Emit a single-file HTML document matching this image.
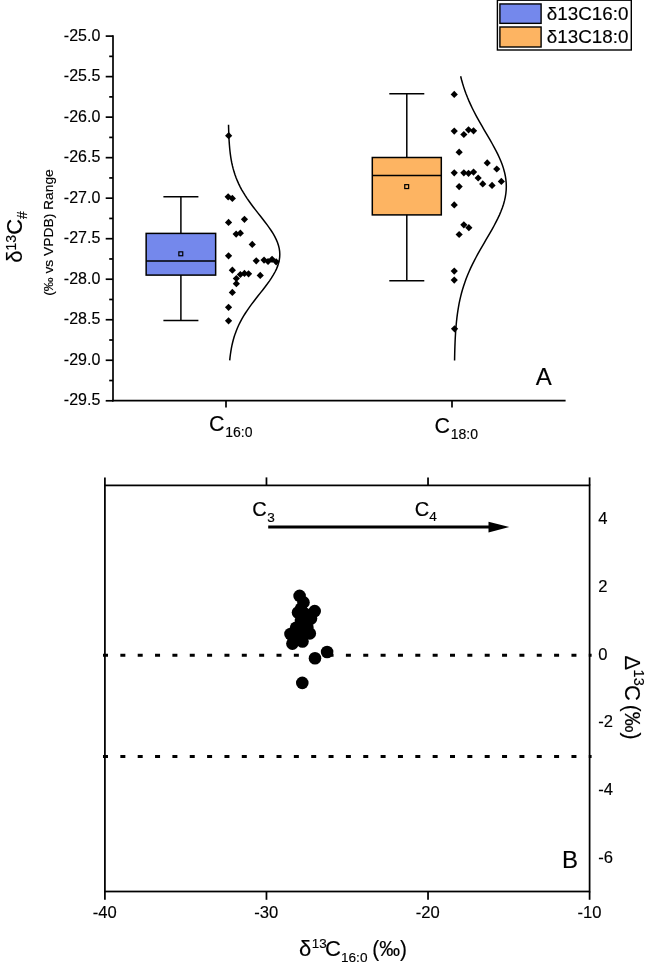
<!DOCTYPE html>
<html lang="en"><head><meta charset="utf-8"><title>Figure</title>
<style>html,body{margin:0;padding:0;background:#fff;}body{width:646px;height:966px;overflow:hidden;}svg{display:block;}text{font-family:"Liberation Sans", sans-serif;fill:#000;stroke:#000;stroke-width:0.15px;stroke-linejoin:round;}</style>
</head><body>
<svg width="646" height="966" viewBox="0 0 646 966">
<rect x="0" y="0" width="646" height="966" fill="#ffffff"/>
<g id="chartA" stroke="#000" stroke-width="1.70" fill="none" stroke-linecap="butt">
<line x1="113" y1="35.25" x2="113" y2="401.5"/>
<line x1="112.15" y1="400.7" x2="565.6" y2="400.7"/>
<line x1="105.7" y1="36.10" x2="113" y2="36.10"/>
<line x1="109.2" y1="56.36" x2="113" y2="56.36"/>
<line x1="105.7" y1="76.62" x2="113" y2="76.62"/>
<line x1="109.2" y1="96.88" x2="113" y2="96.88"/>
<line x1="105.7" y1="117.14" x2="113" y2="117.14"/>
<line x1="109.2" y1="137.40" x2="113" y2="137.40"/>
<line x1="105.7" y1="157.66" x2="113" y2="157.66"/>
<line x1="109.2" y1="177.92" x2="113" y2="177.92"/>
<line x1="105.7" y1="198.18" x2="113" y2="198.18"/>
<line x1="109.2" y1="218.44" x2="113" y2="218.44"/>
<line x1="105.7" y1="238.70" x2="113" y2="238.70"/>
<line x1="109.2" y1="258.96" x2="113" y2="258.96"/>
<line x1="105.7" y1="279.22" x2="113" y2="279.22"/>
<line x1="109.2" y1="299.48" x2="113" y2="299.48"/>
<line x1="105.7" y1="319.74" x2="113" y2="319.74"/>
<line x1="109.2" y1="340.00" x2="113" y2="340.00"/>
<line x1="105.7" y1="360.26" x2="113" y2="360.26"/>
<line x1="109.2" y1="380.52" x2="113" y2="380.52"/>
<line x1="105.7" y1="400.78" x2="113" y2="400.78"/>
<line x1="226.0" y1="400.7" x2="226.0" y2="407.6"/>
<line x1="452.0" y1="400.7" x2="452.0" y2="407.6"/>
</g>
<g font-size="16" text-anchor="end">
<text x="100.3" y="40.60">-25.0</text>
<text x="100.3" y="81.12">-25.5</text>
<text x="100.3" y="121.64">-26.0</text>
<text x="100.3" y="162.16">-26.5</text>
<text x="100.3" y="202.68">-27.0</text>
<text x="100.3" y="243.20">-27.5</text>
<text x="100.3" y="283.72">-28.0</text>
<text x="100.3" y="324.24">-28.5</text>
<text x="100.3" y="364.76">-29.0</text>
<text x="100.3" y="405.28">-29.5</text>
</g>
<text x="209.0" y="431" font-size="21.4">C</text>
<text x="225.2" y="436.9" font-size="14">16:0</text>
<text x="434.4" y="433.2" font-size="21.4">C</text>
<text x="450.7" y="439.3" font-size="14">18:0</text>
<text transform="translate(22.2,262.7) rotate(-90)" font-size="22">δ<tspan font-size="14" dy="-6.5">13</tspan><tspan dy="6.5">C</tspan><tspan font-size="14" dy="5">#</tspan></text>
<text transform="translate(53,295.8) rotate(-90)" font-size="13.5" textLength="126.6" lengthAdjust="spacingAndGlyphs">(‰ vs VPDB) Range</text>
<text x="535.8" y="385.2" font-size="24">A</text>
<g stroke="#000" stroke-width="1.5" fill="none">
<line x1="180.90" y1="196.70" x2="180.90" y2="320.60"/>
<line x1="163.40" y1="196.70" x2="198.40" y2="196.70"/>
<line x1="163.40" y1="320.60" x2="198.40" y2="320.60"/>
<rect x="146.15" y="233.40" width="69.50" height="41.70" fill="#7488ec"/>
<line x1="146.15" y1="261.10" x2="215.65" y2="261.10"/>
<rect x="178.85" y="251.85" width="3.9" height="3.9" stroke-width="1.2" fill="#7488ec"/>
</g>
<g stroke="#000" stroke-width="1.5" fill="none">
<line x1="406.80" y1="93.70" x2="406.80" y2="280.80"/>
<line x1="389.30" y1="93.70" x2="424.30" y2="93.70"/>
<line x1="389.30" y1="280.80" x2="424.30" y2="280.80"/>
<rect x="372.30" y="157.50" width="69.00" height="57.40" fill="#fdb462"/>
<line x1="372.30" y1="175.50" x2="441.30" y2="175.50"/>
<rect x="404.75" y="184.65" width="3.9" height="3.9" stroke-width="1.2" fill="#fdb462"/>
</g>
<polyline fill="none" stroke="#000" stroke-width="1.5" points="228.53,124.70 228.60,127.65 228.68,130.59 228.77,133.54 228.89,136.49 229.04,139.43 229.22,142.38 229.43,145.32 229.68,148.27 229.99,151.22 230.34,154.16 230.76,157.11 231.25,160.06 231.82,163.00 232.47,165.95 233.22,168.89 234.07,171.84 235.02,174.79 236.09,177.73 237.28,180.68 238.60,183.62 240.04,186.57 241.61,189.52 243.30,192.46 245.12,195.41 247.05,198.36 249.09,201.30 251.23,204.25 253.44,207.19 255.71,210.14 258.03,213.09 260.35,216.03 262.67,218.98 264.96,221.93 267.17,224.87 269.29,227.82 271.29,230.76 273.14,233.71 274.81,236.66 276.27,239.60 277.50,242.55 278.48,245.50 279.20,248.44 279.64,251.39 279.80,254.33 279.67,257.28 279.26,260.23 278.57,263.17 277.62,266.12 276.41,269.07 274.98,272.01 273.34,274.96 271.51,277.90 269.53,280.85 267.42,283.80 265.21,286.74 262.93,289.69 260.61,292.64 258.29,295.58 255.97,298.53 253.69,301.48 251.47,304.42 249.33,307.37 247.28,310.31 245.33,313.26 243.50,316.21 241.79,319.15 240.21,322.10 238.75,325.04 237.42,327.99 236.22,330.94 235.14,333.88 234.17,336.83 233.31,339.78 232.55,342.72 231.89,345.67 231.31,348.62 230.82,351.56 230.39,354.51 230.02,357.45 229.72,360.40"/>
<polyline fill="none" stroke="#000" stroke-width="1.5" points="460.63,76.20 461.54,79.76 462.54,83.31 463.63,86.87 464.83,90.42 466.12,93.98 467.52,97.53 469.02,101.09 470.62,104.64 472.31,108.20 474.09,111.75 475.95,115.31 477.88,118.86 479.87,122.42 481.91,125.97 483.98,129.53 486.06,133.08 488.15,136.63 490.21,140.19 492.23,143.75 494.19,147.30 496.07,150.86 497.85,154.41 499.50,157.97 501.01,161.52 502.36,165.08 503.53,168.63 504.51,172.19 505.29,175.74 505.85,179.30 506.19,182.85 506.30,186.41 506.19,189.96 505.85,193.52 505.28,197.07 504.51,200.63 503.53,204.18 502.35,207.74 501.00,211.29 499.49,214.85 497.84,218.40 496.06,221.96 494.19,225.51 492.23,229.06 490.20,232.62 488.14,236.18 486.06,239.73 483.97,243.29 481.90,246.84 479.86,250.40 477.87,253.95 475.94,257.50 474.08,261.06 472.30,264.62 470.61,268.17 469.02,271.73 467.52,275.28 466.12,278.84 464.82,282.39 463.63,285.95 462.53,289.50 461.53,293.06 460.63,296.61 459.81,300.17 459.08,303.72 458.43,307.28 457.85,310.83 457.34,314.39 456.89,317.94 456.50,321.50 456.16,325.05 455.86,328.61 455.61,332.16 455.39,335.71 455.20,339.27 455.05,342.83 454.91,346.38 454.80,349.94 454.71,353.49 454.63,357.05 454.57,360.60"/>
<g fill="#000">
<path d="M225.05 135.70L228.65 132.10L232.25 135.70L228.65 139.30Z"/>
<path d="M224.55 196.80L228.15 193.20L231.75 196.80L228.15 200.40Z"/>
<path d="M228.75 198.40L232.35 194.80L235.95 198.40L232.35 202.00Z"/>
<path d="M224.95 222.40L228.55 218.80L232.15 222.40L228.55 226.00Z"/>
<path d="M240.85 219.30L244.45 215.70L248.05 219.30L244.45 222.90Z"/>
<path d="M232.55 234.10L236.15 230.50L239.75 234.10L236.15 237.70Z"/>
<path d="M236.75 233.20L240.35 229.60L243.95 233.20L240.35 236.80Z"/>
<path d="M248.65 244.40L252.25 240.80L255.85 244.40L252.25 248.00Z"/>
<path d="M224.95 255.80L228.55 252.20L232.15 255.80L228.55 259.40Z"/>
<path d="M252.65 260.80L256.25 257.20L259.85 260.80L256.25 264.40Z"/>
<path d="M260.45 260.10L264.05 256.50L267.65 260.10L264.05 263.70Z"/>
<path d="M264.45 261.50L268.05 257.90L271.65 261.50L268.05 265.10Z"/>
<path d="M268.45 259.30L272.05 255.70L275.65 259.30L272.05 262.90Z"/>
<path d="M272.55 261.80L276.15 258.20L279.75 261.80L276.15 265.40Z"/>
<path d="M228.75 270.20L232.35 266.60L235.95 270.20L232.35 273.80Z"/>
<path d="M256.65 275.40L260.25 271.80L263.85 275.40L260.25 279.00Z"/>
<path d="M236.75 274.50L240.35 270.90L243.95 274.50L240.35 278.10Z"/>
<path d="M240.85 273.40L244.45 269.80L248.05 273.40L244.45 277.00Z"/>
<path d="M244.95 273.80L248.55 270.20L252.15 273.80L248.55 277.40Z"/>
<path d="M232.75 278.50L236.35 274.90L239.95 278.50L236.35 282.10Z"/>
<path d="M232.75 283.70L236.35 280.10L239.95 283.70L236.35 287.30Z"/>
<path d="M228.75 292.40L232.35 288.80L235.95 292.40L232.35 296.00Z"/>
<path d="M224.95 307.30L228.55 303.70L232.15 307.30L228.55 310.90Z"/>
<path d="M224.95 320.80L228.55 317.20L232.15 320.80L228.55 324.40Z"/>
<path d="M450.65 94.40L454.25 90.80L457.85 94.40L454.25 98.00Z"/>
<path d="M450.65 131.10L454.25 127.50L457.85 131.10L454.25 134.70Z"/>
<path d="M460.25 134.50L463.85 130.90L467.45 134.50L463.85 138.10Z"/>
<path d="M464.95 129.80L468.55 126.20L472.15 129.80L468.55 133.40Z"/>
<path d="M469.95 130.80L473.55 127.20L477.15 130.80L473.55 134.40Z"/>
<path d="M455.55 152.20L459.15 148.60L462.75 152.20L459.15 155.80Z"/>
<path d="M483.65 162.90L487.25 159.30L490.85 162.90L487.25 166.50Z"/>
<path d="M493.15 169.00L496.75 165.40L500.35 169.00L496.75 172.60Z"/>
<path d="M450.65 172.80L454.25 169.20L457.85 172.80L454.25 176.40Z"/>
<path d="M460.25 172.80L463.85 169.20L467.45 172.80L463.85 176.40Z"/>
<path d="M464.95 173.30L468.55 169.70L472.15 173.30L468.55 176.90Z"/>
<path d="M469.95 172.10L473.55 168.50L477.15 172.10L473.55 175.70Z"/>
<path d="M474.55 178.00L478.15 174.40L481.75 178.00L478.15 181.60Z"/>
<path d="M479.15 183.90L482.75 180.30L486.35 183.90L482.75 187.50Z"/>
<path d="M488.45 185.40L492.05 181.80L495.65 185.40L492.05 189.00Z"/>
<path d="M497.75 181.40L501.35 177.80L504.95 181.40L501.35 185.00Z"/>
<path d="M455.55 186.60L459.15 183.00L462.75 186.60L459.15 190.20Z"/>
<path d="M450.65 204.90L454.25 201.30L457.85 204.90L454.25 208.50Z"/>
<path d="M460.25 224.80L463.85 221.20L467.45 224.80L463.85 228.40Z"/>
<path d="M465.25 227.70L468.85 224.10L472.45 227.70L468.85 231.30Z"/>
<path d="M455.55 234.50L459.15 230.90L462.75 234.50L459.15 238.10Z"/>
<path d="M450.65 271.10L454.25 267.50L457.85 271.10L454.25 274.70Z"/>
<path d="M450.65 280.10L454.25 276.50L457.85 280.10L454.25 283.70Z"/>
<path d="M450.95 328.80L454.55 325.20L458.15 328.80L454.55 332.40Z"/>
</g>
<rect x="497.4" y="0.2" width="133.9" height="49.8" fill="#fff" stroke="#000" stroke-width="1.4"/>
<rect x="499.9" y="3.95" width="41.2" height="19.4" fill="#7488ec" stroke="#000" stroke-width="1.4"/>
<rect x="499.9" y="27.0" width="41.2" height="20.0" fill="#fdb462" stroke="#000" stroke-width="1.4"/>
<text x="546.8" y="20.4" font-size="18.3" textLength="81.6" lengthAdjust="spacingAndGlyphs">δ13C16:0</text>
<text x="546.8" y="43.0" font-size="18.3" textLength="81.6" lengthAdjust="spacingAndGlyphs">δ13C18:0</text>
<g id="chartB" stroke="#000" stroke-width="1.75" fill="none">
<rect x="104.90" y="485.40" width="484.70" height="406.10"/>
<line x1="104.90" y1="485.40" x2="104.90" y2="477.40"/>
<line x1="104.90" y1="891.50" x2="104.90" y2="899.80"/>
<line x1="266.47" y1="485.40" x2="266.47" y2="477.40"/>
<line x1="266.47" y1="891.50" x2="266.47" y2="899.80"/>
<line x1="428.03" y1="485.40" x2="428.03" y2="477.40"/>
<line x1="428.03" y1="891.50" x2="428.03" y2="899.80"/>
<line x1="589.60" y1="485.40" x2="589.60" y2="477.40"/>
<line x1="589.60" y1="891.50" x2="589.60" y2="899.80"/>
</g>
<g stroke="#000" stroke-width="3" stroke-dasharray="5 12.35" fill="none">
<line x1="103" y1="655.3" x2="591.6" y2="655.3"/>
<line x1="103" y1="756.6" x2="591.6" y2="756.6"/>
</g>
<g font-size="16.6" text-anchor="middle">
<text x="104.70" y="918.4">-40</text>
<text x="266.27" y="918.4">-30</text>
<text x="427.83" y="918.4">-20</text>
<text x="589.40" y="918.4">-10</text>
</g>
<g font-size="16.6">
<text x="598.2" y="524.44">4</text>
<text x="598.2" y="592.12">2</text>
<text x="598.2" y="659.81">0</text>
<text x="598.2" y="727.49">-2</text>
<text x="598.2" y="795.18">-4</text>
<text x="598.2" y="862.86">-6</text>
</g>
<line x1="268.2" y1="527.1" x2="492" y2="527.1" stroke="#000" stroke-width="3"/>
<path d="M488.5 521.8L509.3 527.1L488.5 532.4Z" fill="#000"/>
<text x="252.2" y="515.8" font-size="20">C<tspan font-size="13.6" dy="5.8" dx="0.5">3</tspan></text>
<text x="414.7" y="515.6" font-size="20">C<tspan font-size="13.6" dy="5.6">4</tspan></text>
<text x="562" y="868.2" font-size="24">B</text>
<text x="299" y="955.7" font-size="22">δ</text>
<text x="311.8" y="948" font-size="13.4">13</text>
<text x="324.9" y="955.7" font-size="22">C</text>
<text x="341" y="961.7" font-size="13.6">16:0</text>
<text x="372.3" y="955.7" font-size="22" textLength="34.7" lengthAdjust="spacingAndGlyphs">(‰)</text>
<g transform="translate(624.5,655.4) rotate(90)">
<text x="0" y="0" font-size="22">Δ</text>
<text x="14.2" y="-9.2" font-size="14.5">13</text>
<text x="29.6" y="0" font-size="22">C</text>
<text x="49.3" y="0" font-size="22" textLength="34.7" lengthAdjust="spacingAndGlyphs">(‰)</text>
</g>
<g fill="#000">
<circle cx="302.3" cy="682.9" r="6.3"/>
<circle cx="315.0" cy="658.3" r="6.3"/>
<circle cx="327.1" cy="652.0" r="6.3"/>
<circle cx="299.6" cy="595.9" r="6.3"/>
<circle cx="303.5" cy="602.4" r="6.3"/>
<circle cx="314.7" cy="611.1" r="6.3"/>
<circle cx="298.0" cy="612.5" r="6.3"/>
<circle cx="301.0" cy="608.6" r="6.3"/>
<circle cx="311.0" cy="618.5" r="6.3"/>
<circle cx="296.1" cy="627.8" r="6.3"/>
<circle cx="290.5" cy="634.0" r="6.3"/>
<circle cx="309.8" cy="633.4" r="6.3"/>
<circle cx="292.4" cy="643.6" r="6.3"/>
<circle cx="302.5" cy="641.5" r="6.3"/>
<circle cx="307.3" cy="627.2" r="6.3"/>
<circle cx="301.0" cy="621.0" r="6.3"/>
<circle cx="301.0" cy="631.0" r="6.3"/>
<circle cx="297.3" cy="637.1" r="6.3"/>
<circle cx="304.5" cy="613.5" r="6.3"/>
<circle cx="306.0" cy="620.5" r="6.3"/>
</g>
</svg></body></html>
